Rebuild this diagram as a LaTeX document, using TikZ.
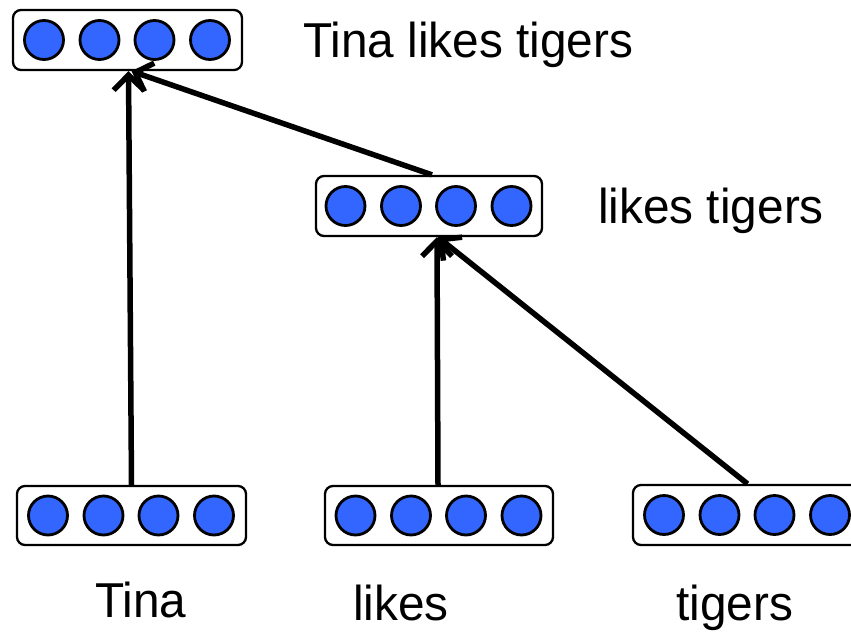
\documentclass[tikz,border=0pt]{standalone}
\usepackage{fontspec}
\setmainfont{Liberation Sans}[FakeStretch=0.975]
\usetikzlibrary{arrows.meta}
\definecolor{unitblue}{RGB}{51,102,255}
\tikzset{
  vecbox/.style={draw=black, line width=2.3pt, rounded corners=8pt, fill=white,
    minimum width=229pt, minimum height=60pt, inner sep=0pt},
  unit/.style={circle, draw=black, line width=2.8pt, fill=unitblue,
    minimum size=39pt, inner sep=0pt},
  conn/.style={line width=5.5pt, -{Straight Barb[length=15pt, width=30pt, line width=5.5pt]}},
  lbl/.style={anchor=base west, inner sep=0pt, font=\fontsize{49}{58}\selectfont}
}
\begin{document}
\begin{tikzpicture}[x=1pt, y=-1pt]
\useasboundingbox (0,0) rectangle (851,634);
% vector boxes
\node[vecbox] (top) at (127.5,40) {};
\node[vecbox, minimum width=226pt] (mid) at (429,206) {};
\node[vecbox, minimum height=59pt] (bl) at (131.5,515.5) {};
\node[vecbox, minimum width=228pt, minimum height=59pt] (bm) at (439,515.5) {};
\node[vecbox] (br) at (747.5,515) {};
% units
\foreach \b in {top,mid,bl,bm,br}{
  \foreach \i/\dx in {1/-83.5,2/-28,3/27,4/82.5}{
    \node[unit, xshift=\dx pt] (\b-\i) at (\b.center) {};
  }
}
% connectors
\draw[conn] (bl.north) -- ([xshift=1pt]top.south);
\draw[conn] ([xshift=3pt]mid.north) -- ([xshift=4pt]top.south);
\draw[conn] ([xshift=-1pt]bm.north) -- ([xshift=8pt]mid.south);
\draw[conn] (br.north) -- ([xshift=9pt]mid.south);
% labels
\node[lbl] (l-top) at (303,58) {Tina likes tigers};
\node[lbl] (l-mid) at (598,223) {likes tigers};
\node[lbl] (l-tina) at (95,617) {Tina};
\node[lbl] (l-likes) at (353,620) {likes};
\node[lbl] (l-tigers) at (676,620) {tigers};
\end{tikzpicture}
\end{document}
